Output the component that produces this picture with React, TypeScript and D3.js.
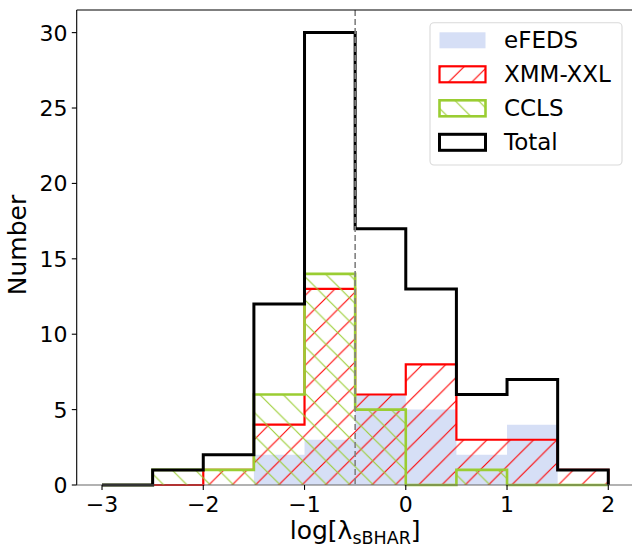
import React, { useRef, useEffect } from 'react';
import * as d3 from 'd3';

// histogram bins and counts
const binEdges = [-3, -2.5, -2, -1.5, -1, -0.5, 0, 0.5, 1, 1.5, 2];
const efedsCounts = [0, 0, 0, 2, 3, 6, 5, 2, 4, 0];
const xmmCounts = [0, 0, 1, 4, 13, 6, 8, 3, 3, 1];
const cclsCounts = [0, 1, 1, 6, 14, 5, 0, 1, 0, 0];
const totalCounts = [0, 1, 2, 12, 30, 17, 13, 6, 7, 1];
const xTicks = [-3, -2, -1, 0, 1, 2];
const yTicks = [0, 5, 10, 15, 20, 25, 30];
const legendLabels = ['eFEDS', 'XMM-XXL', 'CCLS', 'Total'];
const cutValue = -0.5;

const W = 632;
const H = 544;
const FONT = '"DejaVu Sans", sans-serif';
const HATCH = 23.3;

const App: React.FC = () => {
  const svgRef = useRef<SVGSVGElement | null>(null);

  useEffect(() => {
    d3.select(svgRef.current).selectAll('*').remove();
    const svg = d3.select(svgRef.current);

    const x = d3.scaleLinear().domain([-3.25, 2.25]).range([76.7, 633.6]);
    const y = d3.scaleLinear().domain([0, 31.5]).range([485, 10]);

    // hatch patterns
    const defs = svg.append('defs');
    const hatch = (id: string, color: string, dir: string, ox: number) => {
      const S = HATCH;
      const p = defs.append('pattern')
        .attr('id', id)
        .attr('patternUnits', 'userSpaceOnUse')
        .attr('width', S)
        .attr('height', S)
        .attr('x', ox)
        .attr('y', 0);
      const segs = dir === '/'
        ? [[-S / 2, S / 2, S / 2, -S / 2], [0, S, S, 0], [S / 2, 1.5 * S, 1.5 * S, S / 2]]
        : [[0, 0, S, S], [S / 2, -S / 2, 1.5 * S, S / 2], [-S / 2, S / 2, S / 2, 1.5 * S]];
      segs.forEach(s => {
        p.append('line')
          .attr('x1', s[0]).attr('y1', s[1]).attr('x2', s[2]).attr('y2', s[3])
          .attr('stroke', color)
          .attr('stroke-width', 1.1);
      });
    };
    hatch('hatch-xmm', '#ff0000', '/', 18.1);
    hatch('hatch-ccls', '#9acd32', '\\', 5);

    const stepPoints = (counts: number[]) => {
      const pts: [number, number][] = [[binEdges[0], 0]];
      counts.forEach((c, i) => {
        pts.push([binEdges[i], c]);
        pts.push([binEdges[i + 1], c]);
      });
      pts.push([binEdges[binEdges.length - 1], 0]);
      return pts;
    };
    const line = d3.line<[number, number]>()
      .x(d => x(d[0]))
      .y(d => y(d[1]));

    // eFEDS filled
    svg.append('path')
      .attr('d', line(stepPoints(efedsCounts)) + 'Z')
      .attr('fill', '#d6dff6')
      .attr('stroke', 'none');

    // XMM-XXL hatched
    svg.append('path')
      .attr('d', line(stepPoints(xmmCounts)) + 'Z')
      .attr('fill', 'url(#hatch-xmm)');
    svg.append('path')
      .attr('d', line(stepPoints(xmmCounts)))
      .attr('fill', 'none')
      .attr('stroke', '#ff0000')
      .attr('stroke-width', 2.2);

    // CCLS hatched
    svg.append('path')
      .attr('d', line(stepPoints(cclsCounts)) + 'Z')
      .attr('fill', 'url(#hatch-ccls)');
    svg.append('path')
      .attr('d', line(stepPoints(cclsCounts)))
      .attr('fill', 'none')
      .attr('stroke', '#9acd32')
      .attr('stroke-width', 2.6);

    // Total
    svg.append('path')
      .attr('d', line(stepPoints(totalCounts)))
      .attr('fill', 'none')
      .attr('stroke', '#000')
      .attr('stroke-width', 3);

    // dashed cut line
    svg.append('line')
      .attr('x1', x(cutValue)).attr('x2', x(cutValue))
      .attr('y1', y(31.5)).attr('y2', y(0))
      .attr('stroke', 'gray')
      .attr('stroke-width', 1.6)
      .attr('stroke-dasharray', '6,3');

    // spines
    const [x0, x1] = x.range();
    const [yb, yt] = y.range();
    svg.append('line').attr('x1', x0).attr('x2', x0).attr('y1', yt).attr('y2', yb)
      .attr('stroke', '#000').attr('stroke-width', 1.1);
    svg.append('line').attr('x1', x0).attr('x2', x1).attr('y1', yt).attr('y2', yt)
      .attr('stroke', '#000').attr('stroke-width', 1.1);
    svg.append('line').attr('x1', x0).attr('x2', x1).attr('y1', yb).attr('y2', yb)
      .attr('stroke', '#666').attr('stroke-width', 1.2);

    // x axis ticks
    const xg = svg.append('g');
    xTicks.forEach(t => {
      xg.append('line').attr('x1', x(t)).attr('x2', x(t)).attr('y1', yb).attr('y2', yb + 4.9)
        .attr('stroke', '#000').attr('stroke-width', 1.1);
      xg.append('text')
        .attr('x', x(t)).attr('y', 512)
        .attr('text-anchor', 'middle')
        .attr('font-family', FONT).attr('font-size', 22)
        .text(t < 0 ? '\u2212' + Math.abs(t) : String(t));
    });

    // y axis ticks
    const yg = svg.append('g');
    yTicks.forEach(t => {
      yg.append('line').attr('x1', x0 - 4.9).attr('x2', x0).attr('y1', y(t)).attr('y2', y(t))
        .attr('stroke', '#000').attr('stroke-width', 1.1);
      yg.append('text')
        .attr('x', 67.5).attr('y', y(t) + 8)
        .attr('text-anchor', 'end')
        .attr('font-family', FONT).attr('font-size', 22)
        .text(String(t));
    });

    // axis labels
    svg.append('text')
      .attr('transform', 'translate(25.5,245) rotate(-90)')
      .attr('text-anchor', 'middle')
      .attr('font-family', FONT).attr('font-size', 25)
      .text('Number');

    const xl = svg.append('text')
      .attr('x', (x0 + x1) / 2).attr('y', 539)
      .attr('text-anchor', 'middle')
      .attr('font-family', FONT).attr('font-size', 25);
    xl.append('tspan').text('log[\u03bb');
    xl.append('tspan').attr('font-size', 17.5).attr('dy', 5).text('sBHAR');
    xl.append('tspan').attr('dy', -5).text(']');

    // legend
    const lg = svg.append('g');
    lg.append('rect')
      .attr('x', 430).attr('y', 22.7).attr('width', 192).attr('height', 142.3)
      .attr('rx', 4)
      .attr('fill', '#fff').attr('fill-opacity', 0.8)
      .attr('stroke', '#d9d9d9').attr('stroke-width', 1.1);
    const handleFill = ['#d6dff6', 'url(#hatch-xmm)', 'url(#hatch-ccls)', 'none'];
    const handleStroke = ['none', '#ff0000', '#9acd32', '#000'];
    const handleWidth = [0, 2.2, 2.6, 3];
    legendLabels.forEach((lab, i) => {
      const cy = 40.3 + i * 34;
      lg.append('rect')
        .attr('x', 439.5).attr('y', cy - 8).attr('width', 46).attr('height', 16)
        .attr('fill', handleFill[i])
        .attr('stroke', handleStroke[i])
        .attr('stroke-width', handleWidth[i]);
      lg.append('text')
        .attr('x', 504).attr('y', cy + 7.5)
        .attr('font-family', FONT).attr('font-size', 23)
        .text(lab);
    });
  }, []);

  return (
    <div>
      <svg ref={svgRef} width={W} height={H}
        style={{ position: 'absolute', left: 0, top: 0, background: '#fff' }}></svg>
    </div>
  );
};

export default App;
